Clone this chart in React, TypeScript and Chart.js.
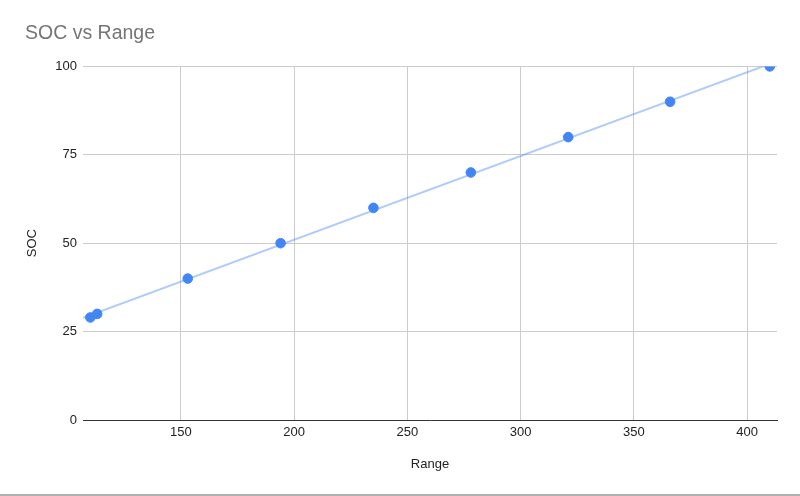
import React, { useEffect, useRef } from "react";
import { Chart, registerables } from "chart.js";

Chart.register(...registerables);

const rangeValues: number[] = [110, 113, 153, 194, 235, 278, 321, 366, 410];
const socValues: number[] = [29, 30, 40, 50, 60, 70, 80, 90, 100];
const X_MIN = 106.75;
const X_MAX = 413.2;
const Y_TICKS: number[] = [0, 25, 50, 75, 100];
const X_TICKS: number[] = [150, 200, 250, 300, 350, 400];

function linearFit(xs: number[], ys: number[]) {
  const n = xs.length;
  const mx = xs.reduce((a, b) => a + b, 0) / n;
  const my = ys.reduce((a, b) => a + b, 0) / n;
  let sxy = 0;
  let sxx = 0;
  for (let i = 0; i < n; i++) {
    sxy += (xs[i] - mx) * (ys[i] - my);
    sxx += (xs[i] - mx) * (xs[i] - mx);
  }
  const slope = sxy / sxx;
  return { slope, intercept: my - slope * mx };
}

export default function App() {
  const ref = useRef<HTMLCanvasElement | null>(null);

  useEffect(() => {
    document.body.style.margin = "0";
    if (!ref.current) return;
    const fit = linearFit(rangeValues, socValues);
    const trend = [X_MIN, X_MAX].map((x) => ({ x, y: fit.intercept + fit.slope * x }));
    const points = rangeValues.map((x, i) => ({ x, y: socValues[i] }));
    const font = "Liberation Sans, Arial, sans-serif";

    const chart = new Chart(ref.current, {
      type: "scatter",
      data: {
        datasets: [
          {
            type: "line",
            label: "Trendline",
            data: trend,
            borderColor: "rgba(66,133,244,0.42)",
            borderWidth: 2,
            pointRadius: 0,
            fill: false,
            order: 2,
          } as any,
          {
            label: "SOC",
            data: points,
            backgroundColor: "#4285f4",
            borderColor: "#4285f4",
            pointRadius: 4.8,
            pointHoverRadius: 4.8,
            order: 1,
          },
        ],
      },
      options: {
        animation: false,
        responsive: false,
        layout: { padding: { left: 25, right: 23, top: 0, bottom: 0 } },
        plugins: {
          legend: { display: false },
          tooltip: { enabled: false },
          title: {
            display: true,
            text: "SOC vs Range",
            align: "start",
            color: "#757575",
            font: { family: font, size: 19.5, weight: "normal" },
            padding: { top: 22, bottom: 21 },
          },
        },
        scales: {
          x: {
            type: "linear",
            min: X_MIN,
            max: X_MAX,
            afterBuildTicks: (axis: any) => {
              axis.ticks = X_TICKS.map((v) => ({ value: v }));
            },
            afterFit: (axis: any) => {
              axis.height = 74;
            },
            grid: { color: "#cccccc", drawTicks: false, lineWidth: 1 },
            border: { display: true, color: "#333333", width: 1 },
            ticks: {
              color: "#222222",
              padding: 5,
              font: { family: font, size: 13 },
              maxRotation: 0,
            },
            title: {
              display: true,
              text: "Range",
              color: "#222222",
              font: { family: font, size: 13 },
              padding: { top: 0, bottom: 22 },
            },
          },
          y: {
            type: "linear",
            min: 0,
            max: 100,
            afterBuildTicks: (axis: any) => {
              axis.ticks = Y_TICKS.map((v) => ({ value: v }));
            },
            afterFit: (axis: any) => {
              axis.width = 58;
            },
            grid: { color: "#cccccc", drawTicks: false, lineWidth: 1 },
            border: { display: false },
            ticks: {
              color: "#222222",
              padding: 6,
              font: { family: font, size: 13 },
            },
            title: {
              display: true,
              text: "SOC",
              color: "#222222",
              font: { family: font, size: 13 },
              padding: { top: 0, bottom: 0 },
            },
          },
        },
      },
    });
    return () => chart.destroy();
  }, []);

  return (
    <div style={{ position: "absolute", left: 0, top: 0, width: 800, height: 496, background: "#fff" }}>
      <canvas ref={ref} width={800} height={494} style={{ display: "block", width: 800, height: 494 }} />
      <div style={{ height: 2, background: "#b0b0b0" }} />
    </div>
  );
}
